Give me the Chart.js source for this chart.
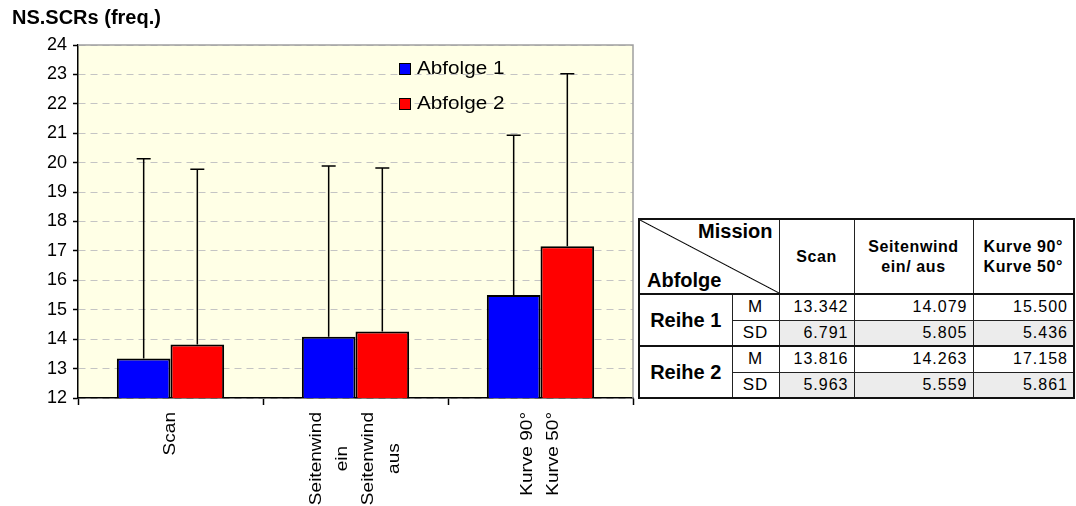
<!DOCTYPE html>
<html>
<head>
<meta charset="utf-8">
<script src="https://cdn.jsdelivr.net/npm/chart.js@4/dist/chart.umd.min.js"></script>
<style>
    body { margin: 0; background: #fff; width: 1076px; height: 506px; overflow: hidden; position: relative; }
    #chartBox { position: absolute; left: 0; top: 0; width: 640px; height: 506px; }
    #statTable {
        position: absolute; left: 638px; top: 218px; width: 435px;
        border-collapse: collapse; table-layout: fixed;
        font-family: Arial, "Liberation Sans", sans-serif; color: #000; background: #fff;
        border: 2px solid #111;
    }
    #statTable td { border: 1px solid #222; padding: 0; }
    #statTable .head { font-weight: bold; font-size: 16px; text-align: center; line-height: 20px; letter-spacing: 0.6px; }
    #statTable .corner { position: relative; height: 73px;
        background: linear-gradient(to bottom left, transparent calc(50% - 1px), #000 50%, transparent calc(50% + 1px)); }
    #statTable .corner span { position: absolute; font-weight: bold; font-size: 20px; }
    #statTable .row-name { font-weight: bold; font-size: 20px; text-align: center; border-top: 2px solid #111; }
    #statTable .kind { font-size: 17px; text-align: center; letter-spacing: 1px; }
    #statTable .num { font-size: 16px; text-align: right; padding-right: 5px; letter-spacing: 1px; }
    #statTable .sd { background: #ececec; }
    #statTable .top2 { border-top: 2px solid #111; }
</style>
</head>
<body>
<div id="chartBox"><canvas id="mainChart"></canvas></div>
<table id="statTable"></table>

<script>
// --- DATA ---
const categories = ['Scan', 'Seitenwind ein/ aus', 'Kurve 90° Kurve 50°'];
const axisLabels = [['Scan'], ['Seitenwind', 'ein', 'Seitenwind', 'aus'], ['Kurve 90°', 'Kurve 50°']];
const tableHeads = [['Scan'], ['Seitenwind', 'ein/ aus'], ['Kurve 90°', 'Kurve 50°']];
const seriesNames = ['Abfolge 1', 'Abfolge 2'];
const rowNames = ['Reihe 1', 'Reihe 2'];
const meanReihe1 = [13.342, 14.079, 15.500];
const sdReihe1 = [6.791, 5.805, 5.436];
const meanReihe2 = [13.816, 14.263, 17.158];
const sdReihe2 = [5.963, 5.559, 5.861];
const yMin = 12, yMax = 24, yStep = 1;

const FONT = 'Arial, "Liberation Sans", sans-serif';

// --- 1. PLUGINS (background, error bars, legend, rotated labels) ---
const plotBack = {
    id: 'plotBack',
    beforeDraw(chart) {
        const {ctx, chartArea: a} = chart;
        ctx.save();
        ctx.fillStyle = '#ffffe6';
        ctx.fillRect(a.left, a.top, a.right - a.left, a.bottom - a.top);
        ctx.restore();
    },
    afterDraw(chart) {
        // grey frame top + right like the excel plot area
        const {ctx, chartArea: a} = chart;
        ctx.save();
        ctx.strokeStyle = '#a0a0a0';
        ctx.lineWidth = 1.5;
        ctx.beginPath();
        ctx.moveTo(a.left, a.top);
        ctx.lineTo(a.right, a.top);
        ctx.lineTo(a.right, a.bottom);
        ctx.stroke();
        ctx.restore();
    }
};

const errorBars = {
    id: 'errorBars',
    afterDatasetsDraw(chart) {
        const {ctx} = chart;
        const yScale = chart.scales.y;
        ctx.save();
        ctx.strokeStyle = '#000';
        ctx.lineWidth = 1.5;
        chart.data.datasets.forEach((ds, di) => {
            const meta = chart.getDatasetMeta(di);
            meta.data.forEach((bar, i) => {
                const yEnd = yScale.getPixelForValue(ds.data[i] + ds.sd[i]);
                ctx.beginPath();
                ctx.moveTo(bar.x, bar.y);
                ctx.lineTo(bar.x, yEnd);
                ctx.moveTo(bar.x - 7, yEnd);
                ctx.lineTo(bar.x + 7, yEnd);
                ctx.stroke();
            });
        });
        ctx.restore();
    }
};

const innerLegend = {
    id: 'innerLegend',
    afterDraw(chart) {
        const {ctx} = chart;
        ctx.save();
        ctx.font = '18px ' + FONT;
        ctx.textBaseline = 'middle';
        chart.data.datasets.forEach((ds, i) => {
            const y = 69 + i * 35;
            ctx.fillStyle = ds.backgroundColor;
            ctx.fillRect(399, y - 6, 11, 11);
            ctx.strokeStyle = '#000';
            ctx.lineWidth = 1;
            ctx.strokeRect(399.5, y - 5.5, 11, 11);
            ctx.fillStyle = '#000';
            ctx.save();
            ctx.translate(417, y);
            ctx.scale(1.15, 1);
            ctx.fillText(ds.label, 0, 0);
            ctx.restore();
        });
        ctx.restore();
    }
};

const xLabels = {
    id: 'xLabels',
    afterDraw(chart) {
        const {ctx} = chart;
        const xScale = chart.scales.x;
        const stretch = 1.12, lh = 26, top = 412;
        ctx.save();
        ctx.font = '17px ' + FONT;
        ctx.fillStyle = '#000';
        ctx.textAlign = 'center';
        ctx.textBaseline = 'middle';
        axisLabels.forEach((lines, i) => {
            const cx = xScale.getPixelForValue(i);
            const maxW = Math.max(...lines.map(t => ctx.measureText(t).width)) * stretch;
            lines.forEach((t, j) => {
                ctx.save();
                ctx.translate(cx + (j - (lines.length - 1) / 2) * lh, top + maxW / 2);
                ctx.rotate(-Math.PI / 2);
                ctx.scale(stretch, 1);
                ctx.fillText(t, 0, 0);
                ctx.restore();
            });
        });
        ctx.restore();
    }
};

// --- 2. CHART ---
new Chart(document.getElementById('mainChart'), {
    type: 'bar',
    data: {
        labels: categories,
        datasets: [
            { label: seriesNames[0], data: meanReihe1, sd: sdReihe1, backgroundColor: '#0000ff' },
            { label: seriesNames[1], data: meanReihe2, sd: sdReihe2, backgroundColor: '#ff0000' }
        ]
    },
    options: {
        responsive: true,
        maintainAspectRatio: false,
        animation: false,
        layout: { padding: { left: 12, right: 7, top: 0, bottom: 108 } },
        datasets: {
            bar: { categoryPercentage: 0.58, barPercentage: 1, borderColor: '#000', borderWidth: 2, borderSkipped: false }
        },
        scales: {
            x: {
                afterFit: s => { s.height = 0; },
                ticks: { display: false },
                grid: { drawOnChartArea: false, tickLength: 7, tickColor: '#000', tickWidth: 1.5 },
                border: { color: '#000', width: 1.5 }
            },
            y: {
                min: yMin, max: yMax,
                afterFit: s => { s.width = 66; },
                ticks: { stepSize: yStep, color: '#000', padding: 6, font: { family: FONT, size: 18 } },
                grid: { color: '#c4c4c4', lineWidth: 1, tickLength: 5, tickColor: '#000', tickWidth: 1.5 },
                border: { color: '#000', width: 1.5, dash: [7, 5] }
            }
        },
        plugins: {
            legend: { display: false },
            tooltip: { enabled: false },
            title: {
                display: true, text: 'NS.SCRs (freq.)', align: 'start', color: '#000',
                font: { family: FONT, size: 20, weight: 'bold' },
                padding: { top: 6, bottom: 15 }
            }
        }
    },
    plugins: [plotBack, errorBars, innerLegend, xLabels]
});

// --- 3. TABLE ---
function renderTable() {
    const t = document.getElementById('statTable');
    let html = '<colgroup><col style="width:93px"><col style="width:47px"><col style="width:75px"><col style="width:119px"><col style="width:101px"></colgroup>';
    html += '<tr style="height:75px"><td colspan="2"><div class="corner">' +
        '<span style="right:6px;top:0px">Mission</span><span style="left:7px;bottom:1px">Abfolge</span></div></td>';
    tableHeads.forEach(h => { html += `<td class="head">${h.join('<br>')}</td>`; });
    html += '</tr>';
    const rows = [[meanReihe1, sdReihe1], [meanReihe2, sdReihe2]];
    rows.forEach((r, ri) => {
        html += `<tr style="height:26px"><td class="row-name" rowspan="2">${rowNames[ri]}</td><td class="kind top2">M</td>`;
        r[0].forEach(v => { html += `<td class="num top2">${v.toFixed(3)}</td>`; });
        html += '</tr><tr style="height:26px"><td class="kind">SD</td>';
        r[1].forEach(v => { html += `<td class="num sd">${v.toFixed(3)}</td>`; });
        html += '</tr>';
    });
    t.innerHTML = html;
}
renderTable();
</script>
</body>
</html>
